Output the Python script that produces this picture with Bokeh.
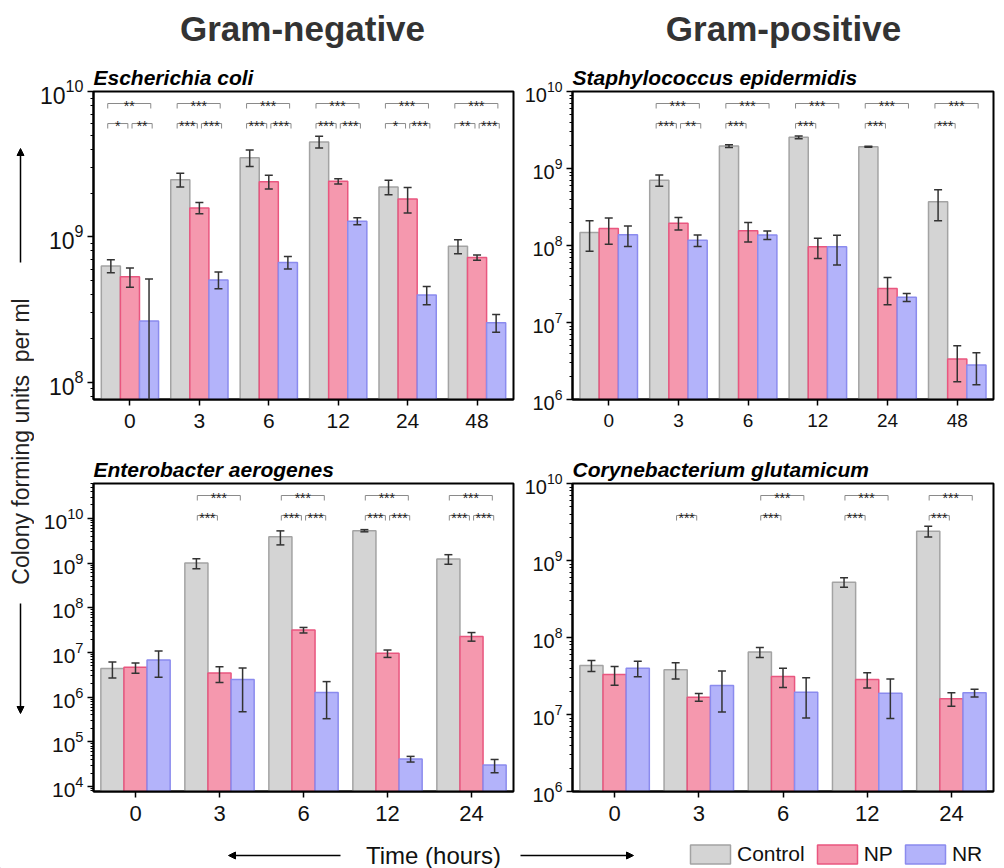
import math
from bokeh.plotting import figure
from bokeh.models import (Range1d, FixedTicker, Whisker, TeeHead, ColumnDataSource, Title,
                          Arrow, NormalHead, Legend, LegendItem)
from bokeh.layouts import column, row
from bokeh.embed import file_html
from bokeh.resources import INLINE
from bokeh.core.properties import value

FONT = "Liberation Sans"
SERIES = ["Control", "NP", "NR"]
FILL = ["#d4d4d4", "#f598ae", "#b3b3fa"]
LINE = ["#a3a3a3", "#e9567f", "#8b8bee"]
HEADERS = ["Gram-negative", "Gram-positive"]

# ---------------- data ----------------
ecoli_times = ["0", "3", "6", "12", "24", "48"]
ecoli_control = [6.3e8, 2.47e9, 3.5e9, 4.5e9, 2.2e9, 8.6e8]
ecoli_control_err = [0.65e8, 0.27e9, 0.45e9, 0.42e9, 0.25e9, 0.95e8]
ecoli_np = [5.3e8, 1.58e9, 2.39e9, 2.41e9, 1.82e9, 7.2e8]
ecoli_np_err = [0.8e8, 0.14e9, 0.26e9, 0.1e9, 0.36e9, 0.3e8]
ecoli_nr = [2.63e8, 5.05e8, 6.65e8, 1.28e9, 3.98e8, 2.56e8]
ecoli_nr_err = [2.5e8, 0.67e8, 0.66e8, 0.07e9, 0.57e8, 0.36e8]
ecoli_sig = [("**", "*", "**"), ("***", "***", "***"), ("***", "***", "***"),
             ("***", "***", "***"), ("***", "*", "***"), ("***", "**", "***")]

staph_times = ["0", "3", "6", "12", "24", "48"]
staph_control = [1.47e8, 7.06e8, 1.96e9, 2.54e9, 1.92e9, 3.69e8]
staph_control_err = [0.63e8, 1.2e8, 0.08e9, 0.1e9, 0.03e9, 1.6e8]
staph_np = [1.66e8, 1.95e8, 1.55e8, 9.6e7, 2.77e7, 3.35e6]
staph_np_err = [0.62e8, 0.36e8, 0.44e8, 2.8e7, 1.07e7, 1.65e6]
staph_nr = [1.38e8, 1.17e8, 1.37e8, 9.6e7, 2.13e7, 2.8e6]
staph_nr_err = [0.41e8, 0.2e8, 0.17e8, 4.0e7, 0.25e7, 1.25e6]
staph_sig = [("", "", ""), ("***", "***", "**"), ("***", "***", ""),
             ("***", "***", ""), ("***", "***", ""), ("***", "***", "")]

entero_times = ["0", "3", "6", "12", "24"]
entero_control = [4.4e6, 1.0e9, 3.9e9, 5.3e9, 1.24e9]
entero_control_err = [1.7e6, 0.25e9, 1.35e9, 0.3e9, 0.3e9]
entero_np = [4.65e6, 3.47e6, 3.18e7, 9.55e6, 2.29e7]
entero_np_err = [1.2e6, 1.35e6, 0.45e7, 1.8e6, 0.5e7]
entero_nr = [6.8e6, 2.47e6, 1.28e6, 4.14e4, 3.04e4]
entero_nr_err = [4.0e6, 2.0e6, 0.95e6, 0.6e4, 1.0e4]
entero_sig = [("", "", ""), ("***", "***", ""), ("***", "***", "***"),
              ("***", "***", "***"), ("***", "***", "***")]

coryne_times = ["0", "3", "6", "12", "24"]
coryne_control = [4.33e7, 3.8e7, 6.46e7, 5.22e8, 2.4e9]
coryne_control_err = [0.7e7, 0.9e7, 0.95e7, 0.73e8, 0.38e9]
coryne_np = [3.3e7, 1.68e7, 3.12e7, 2.85e7, 1.6e7]
coryne_np_err = [0.9e7, 0.19e7, 0.87e7, 0.64e7, 0.32e7]
coryne_nr = [4.0e7, 2.38e7, 1.95e7, 1.89e7, 1.91e7]
coryne_nr_err = [0.9e7, 1.3e7, 1.05e7, 1.0e7, 0.22e7]
coryne_sig = [("", "", ""), ("", "***", ""), ("***", "***", ""),
              ("***", "***", ""), ("***", "***", "")]


def make_panel(species, times, vals, errs, sig, ylog, width, height, mb,
               ytick_font, xtick_font, xpad, bscale):
    lo, hi = ylog
    n = len(times)
    p = figure(width=width, height=height, y_axis_type="log",
               x_range=Range1d(-xpad, n - 1 + xpad), y_range=Range1d(10 ** lo, 10 ** hi),
               output_backend="svg", toolbar_location=None,
               min_border_left=mb[0], min_border_right=mb[1],
               min_border_top=mb[2], min_border_bottom=mb[3])
    p.title.text_font = FONT
    p.title.text = species
    p.title.text_font_size = "21px"
    p.title.text_font_style = "bold italic"
    p.title.text_color = "black"
    p.title.align = "left"
    p.title.standoff = 5

    p.xgrid.visible = False
    p.ygrid.visible = False
    p.outline_line_color = "black"
    p.outline_line_width = 2
    p.outline_line_alpha = 1
    p.background_fill_color = "white"
    p.border_fill_color = "white"

    bw = 0.275
    offs = [-bw, 0.0, bw]
    for k in range(3):
        xs = [i + offs[k] for i in range(n)]
        p.vbar(x=xs, top=vals[k], bottom=10 ** (lo - 1), width=bw,
               fill_color=FILL[k], line_color=LINE[k], line_width=1.5)
    for k in range(3):
        xs = [i + offs[k] for i in range(n)]
        src = ColumnDataSource(dict(x=xs,
                                    upper=[v + e for v, e in zip(vals[k], errs[k])],
                                    lower=[v - e for v, e in zip(vals[k], errs[k])]))
        w = Whisker(source=src, base="x", upper="upper", lower="lower",
                    line_color="#333333", line_width=1.5, level="overlay",
                    upper_head=TeeHead(size=8, line_color="#333333", line_width=1.5),
                    lower_head=TeeHead(size=8, line_color="#333333", line_width=1.5))
        p.add_layout(w)

    def yf(f):
        return 10 ** (lo + f * (hi - lo))

    drop = 5.0 / 308.0
    up_f, low_f = 0.961, 0.896
    spans = {"top": (-0.32 * bscale, 0.30 * bscale, up_f),
             "left": (-0.32 * bscale, -0.03 * bscale, low_f),
             "right": (0.03 * bscale, 0.32 * bscale, low_f)}
    bxs, bys, tx, ty, tt = [], [], [], [], []
    for i, s in enumerate(sig):
        for key, lab in zip(["top", "left", "right"], s):
            if not lab:
                continue
            a, b, f = spans[key]
            bxs.append([i + a, i + a, i + b, i + b])
            bys.append([yf(f - drop), yf(f), yf(f), yf(f - drop)])
            tx.append(i + (a + b) / 2)
            ty.append(yf(f - 2.5 / 308.0))
            tt.append(lab)
    if bxs:
        p.multi_line(xs=bxs, ys=bys, line_color="#8a8a8a", line_width=1)
        p.text(x=tx, y=ty, text=tt, text_align="center", text_baseline="alphabetic",
               text_font=value(FONT), text_font_size="14px", text_color="#1a1a1a")

    # axes
    p.xaxis.ticker = FixedTicker(ticks=list(range(n)))
    p.xaxis.major_label_overrides = {i: t for i, t in enumerate(times)}
    p.xaxis.minor_tick_line_color = None
    ymaj = [10.0 ** e for e in range(math.ceil(lo), math.floor(hi) + 1)]
    ymin = [m * 10.0 ** e for e in range(math.floor(lo), math.ceil(hi)) for m in range(2, 10)]
    p.yaxis.ticker = FixedTicker(ticks=ymaj, minor_ticks=ymin)
    for ax in (p.xaxis[0], p.yaxis[0]):
        ax.axis_line_width = 2
        ax.axis_line_color = "black"
        ax.major_tick_line_width = 1.5
        ax.major_tick_out = 6
        ax.major_tick_in = 0
        ax.major_label_text_font = FONT
        ax.major_label_text_color = "#111111"
    p.yaxis.minor_tick_out = 3
    p.yaxis.minor_tick_in = 0
    p.yaxis.minor_tick_line_width = 1
    p.yaxis.major_label_text_font_size = ytick_font
    p.xaxis.major_label_text_font_size = xtick_font
    p.yaxis.major_label_standoff = 4
    p.xaxis.major_label_standoff = 8
    return p


TOP_H = 58
p1 = make_panel("Escherichia coli", ecoli_times,
                [ecoli_control, ecoli_np, ecoli_nr],
                [ecoli_control_err, ecoli_np_err, ecoli_nr_err], ecoli_sig,
                (7.88, 10.0), 482, 440 - TOP_H, (59, 3, 91 - TOP_H, 41), "23px", "21px", 0.525, 1.0)
p2 = make_panel("Staphylococcus epidermidis", staph_times,
                [staph_control, staph_np, staph_nr],
                [staph_control_err, staph_np_err, staph_nr_err], staph_sig,
                (6.0, 10.0), 488, 440 - TOP_H, (56, 11, 91 - TOP_H, 41), "20px", "19px", 0.52, 1.0)
p3 = make_panel("Enterobacter aerogenes", entero_times,
                [entero_control, entero_np, entero_nr],
                [entero_control_err, entero_np_err, entero_nr_err], entero_sig,
                (3.89, 10.78), 482, 390, (59, 3, 43, 39), "21px", "22px", 0.5, 0.826)
p4 = make_panel("Corynebacterium glutamicum", coryne_times,
                [coryne_control, coryne_np, coryne_nr],
                [coryne_control_err, coryne_np_err, coryne_nr_err], coryne_sig,
                (6.0, 10.0), 488, 390, (56, 11, 43, 39), "20px", "22px", 0.5, 0.826)

# ---------------- header strip ----------------
hs = figure(width=1004, height=TOP_H, x_range=Range1d(0, 1004), y_range=Range1d(0, TOP_H),
            output_backend="svg", toolbar_location=None, min_border=0,
            x_axis_location=None, y_axis_location=None)
hs.xgrid.visible = False
hs.ygrid.visible = False
hs.outline_line_color = None
hs.text(x=[302, 783], y=[TOP_H - 28, TOP_H - 28], text=HEADERS, text_align="center",
        text_baseline="middle", text_font=value(FONT), text_font_size="35px",
        text_font_style="bold", text_color="#333333")

# ---------------- y label strip ----------------
YS_H = 830 - TOP_H
ys = figure(width=34, height=YS_H, x_range=Range1d(0, 34), y_range=Range1d(0, YS_H),
            output_backend="svg", toolbar_location=None, min_border=0,
            x_axis_location=None, y_axis_location=None)
ys.xgrid.visible = False
ys.ygrid.visible = False
ys.outline_line_color = None
ys.text(x=[20], y=[389], text=["Colony forming units\u00a0\u00a0per ml"], angle=math.pi / 2,
        text_align="center", text_baseline="middle", text_font=value(FONT),
        text_font_size="23px", text_color="#222222")
ys.add_layout(Arrow(x_start=20, y_start=568, x_end=20, y_end=682, line_width=1.5,
                    line_color="black",
                    end=NormalHead(size=7, fill_color="black", line_color="black")))
ys.add_layout(Arrow(x_start=20, y_start=227, x_end=20, y_end=117, line_width=1.5,
                    line_color="black",
                    end=NormalHead(size=7, fill_color="black", line_color="black")))

# ---------------- bottom strip ----------------
bs = figure(width=1004, height=38, x_range=Range1d(0, 1004), y_range=Range1d(0, 38),
            output_backend="svg", toolbar_location=None, min_border=0,
            x_axis_location=None, y_axis_location=None)
bs.xgrid.visible = False
bs.ygrid.visible = False
bs.outline_line_color = None
bs.text(x=[433], y=[13], text=["Time (hours)"], text_align="center",
        text_baseline="middle", text_font=value(FONT), text_font_size="24px",
        text_color="#111111")
bs.add_layout(Arrow(x_start=340, y_start=13, x_end=228, y_end=13, line_width=1.5,
                    line_color="black",
                    end=NormalHead(size=7, fill_color="black", line_color="black")))
bs.add_layout(Arrow(x_start=520, y_start=13, x_end=633, y_end=13, line_width=1.5,
                    line_color="black",
                    end=NormalHead(size=7, fill_color="black", line_color="black")))
items = []
for k in range(3):
    r = bs.vbar(x=[-500], top=[-400], bottom=-450, width=1, fill_color=FILL[k],
                line_color=LINE[k], line_width=1.5)
    items.append(LegendItem(label=SERIES[k], renderers=[r]))
leg = Legend(items=items, orientation="horizontal", location=(685, 2),
             glyph_width=50, glyph_height=24, label_text_font=FONT,
             label_text_font_size="21px", label_text_color="#111111",
             label_standoff=2, spacing=7, padding=0, margin=0,
             border_line_alpha=0, background_fill_alpha=0, label_height=24)
bs.add_layout(leg)

layout = column(hs,
                row(ys, column(row(p1, p2, spacing=0), row(p3, p4, spacing=0), spacing=0),
                    spacing=0),
                bs, spacing=0)

open("out.html", "w").write(file_html(layout, INLINE))
